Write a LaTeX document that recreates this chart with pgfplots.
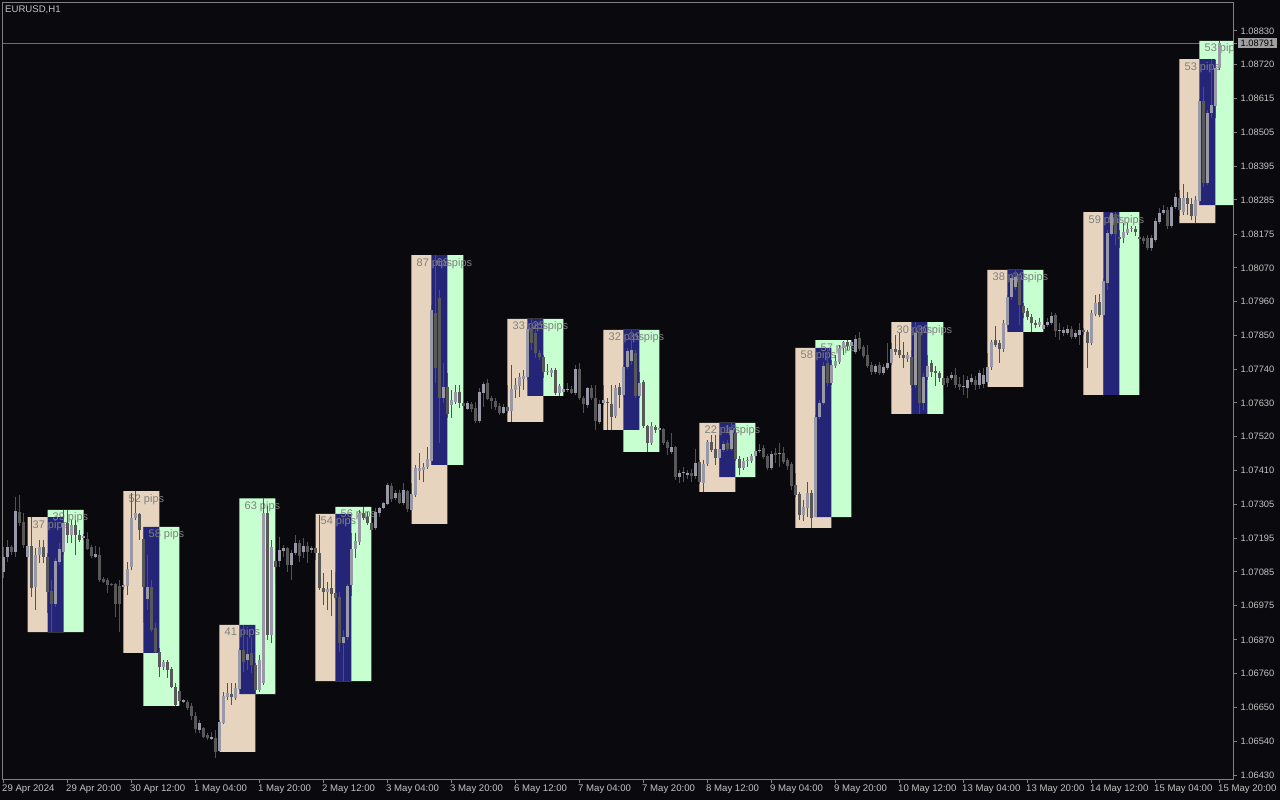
\documentclass[border=0pt]{standalone}
\usepackage{fontspec}
\setmainfont{Liberation Sans}
\usepackage{pgfplots}
\usepackage{pgfplotstable}
\pgfplotsset{compat=1.18}
\definecolor{bgc}{RGB}{10,10,14}
\definecolor{framec}{RGB}{128,128,128}
\definecolor{tickc}{RGB}{195,195,195}
\definecolor{tanc}{RGB}{230,212,190}
\definecolor{mintc}{RGB}{200,255,208}
\definecolor{navyc}{RGB}{37,37,120}
\definecolor{bullc}{RGB}{152,152,166}
\definecolor{bearc}{RGB}{88,88,88}
\definecolor{wickc}{RGB}{82,82,82}
\definecolor{labc}{RGB}{128,128,128}
\definecolor{pricec}{RGB}{110,110,110}
\definecolor{tagc}{RGB}{160,160,160}

\pgfplotstableread{
i o h l c
0 1.07085 1.07165 1.07066 1.07133
1 1.07133 1.07188 1.07117 1.07165
2 1.07165 1.07172 1.07140 1.07149
3 1.07149 1.07327 1.07133 1.07282
4 1.07278 1.07333 1.07233 1.07243
5 1.07246 1.07275 1.07162 1.07172
6 1.07133 1.07188 1.07124 1.07169
7 1.07169 1.07262 1.07004 1.07033
8 1.07036 1.07162 1.06962 1.07140
9 1.07140 1.07188 1.07114 1.07165
10 1.07165 1.07188 1.07114 1.07133
11 1.07133 1.07146 1.06953 1.07020
12 1.07024 1.07059 1.06891 1.06982
13 1.06982 1.07130 1.06972 1.07120
14 1.07117 1.07178 1.07108 1.07159
15 1.07149 1.07284 1.07140 1.07243
16 1.07243 1.07284 1.07178 1.07204
17 1.07204 1.07253 1.07178 1.07237
18 1.07237 1.07253 1.07140 1.07204
19 1.07204 1.07220 1.07182 1.07188
20 1.07195 1.07207 1.07188 1.07201
21 1.07191 1.07214 1.07156 1.07159
22 1.07165 1.07172 1.07130 1.07136
23 1.07133 1.07169 1.07130 1.07143
24 1.07140 1.07165 1.07053 1.07059
25 1.07062 1.07069 1.07049 1.07053
26 1.07059 1.07066 1.07017 1.07043
27 1.07046 1.07049 1.07040 1.07043
28 1.07046 1.07049 1.06940 1.06982
29 1.07040 1.07059 1.06891 1.06982
30 1.07036 1.07046 1.07027 1.07043
31 1.07040 1.07117 1.07011 1.07095
32 1.07101 1.07340 1.07091 1.07259
33 1.07259 1.07346 1.07253 1.07275
34 1.07272 1.07275 1.07188 1.07220
35 1.07191 1.07230 1.06920 1.07036
36 1.06998 1.07140 1.06962 1.07036
37 1.07036 1.07059 1.06891 1.06898
38 1.06904 1.06920 1.06824 1.06826
39 1.06827 1.06840 1.06746 1.06778
40 1.06778 1.06801 1.06769 1.06795
41 1.06795 1.06801 1.06743 1.06769
42 1.06772 1.06778 1.06711 1.06714
43 1.06714 1.06727 1.06653 1.06656
44 1.06701 1.06714 1.06666 1.06669
45 1.06666 1.06675 1.06662 1.06672
46 1.06666 1.06672 1.06640 1.06646
47 1.06653 1.06662 1.06608 1.06620
48 1.06620 1.06633 1.06566 1.06579
49 1.06575 1.06608 1.06566 1.06598
50 1.06582 1.06585 1.06549 1.06553
51 1.06559 1.06566 1.06543 1.06549
52 1.06546 1.06569 1.06543 1.06553
53 1.06549 1.06575 1.06485 1.06504
54 1.06507 1.06608 1.06505 1.06601
55 1.06598 1.06698 1.06595 1.06685
56 1.06682 1.06727 1.06672 1.06694
57 1.06691 1.06727 1.06656 1.06682
58 1.06678 1.06727 1.06672 1.06711
59 1.06707 1.06840 1.06704 1.06833
60 1.06833 1.06914 1.06762 1.06795
61 1.06801 1.06875 1.06769 1.06820
62 1.06824 1.06875 1.06759 1.06785
63 1.06785 1.06791 1.06691 1.06704
64 1.06704 1.06817 1.06698 1.06801
65 1.06727 1.07322 1.06720 1.07275
66 1.07275 1.07298 1.06866 1.06882
67 1.06882 1.07188 1.06856 1.07165
68 1.07120 1.07146 1.07049 1.07101
69 1.07120 1.07198 1.07101 1.07156
70 1.07153 1.07172 1.07133 1.07162
71 1.07162 1.07165 1.07085 1.07108
72 1.07108 1.07156 1.07059 1.07146
73 1.07146 1.07204 1.07140 1.07178
74 1.07178 1.07188 1.07117 1.07136
75 1.07149 1.07195 1.07130 1.07169
76 1.07169 1.07182 1.07114 1.07149
77 1.07156 1.07169 1.07146 1.07162
78 1.07162 1.07272 1.07124 1.07146
79 1.07146 1.07269 1.07027 1.07033
80 1.07033 1.07082 1.06978 1.07020
81 1.07020 1.07053 1.06962 1.07030
82 1.07033 1.07091 1.06943 1.07014
83 1.07017 1.07085 1.06995 1.07001
84 1.07004 1.07020 1.06827 1.06856
85 1.06856 1.06898 1.06733 1.06875
86 1.06875 1.07046 1.06866 1.07040
87 1.07043 1.07211 1.07007 1.07159
88 1.07159 1.07211 1.07130 1.07185
89 1.07182 1.07285 1.07172 1.07275
90 1.07275 1.07295 1.07253 1.07259
91 1.07262 1.07278 1.07237 1.07243
92 1.07243 1.07259 1.07214 1.07220
93 1.07227 1.07291 1.07220 1.07278
94 1.07275 1.07295 1.07262 1.07291
95 1.07291 1.07311 1.07288 1.07307
96 1.07304 1.07372 1.07301 1.07366
97 1.07362 1.07372 1.07311 1.07320
98 1.07324 1.07349 1.07317 1.07340
99 1.07340 1.07349 1.07304 1.07307
100 1.07307 1.07372 1.07301 1.07349
101 1.07346 1.07349 1.07278 1.07288
102 1.07285 1.07372 1.07240 1.07337
103 1.07333 1.07430 1.07327 1.07420
104 1.07411 1.07469 1.07382 1.07420
105 1.07414 1.07437 1.07375 1.07424
106 1.07424 1.07488 1.07417 1.07449
107 1.07443 1.07946 1.07430 1.07930
108 1.07920 1.08107 1.07695 1.07743
109 1.07969 1.07995 1.07501 1.07646
110 1.07646 1.07759 1.07630 1.07682
111 1.07682 1.07727 1.07582 1.07595
112 1.07624 1.07672 1.07582 1.07640
113 1.07633 1.07688 1.07627 1.07666
114 1.07666 1.07688 1.07614 1.07630
115 1.07630 1.07637 1.07614 1.07620
116 1.07611 1.07637 1.07607 1.07630
117 1.07627 1.07633 1.07601 1.07611
118 1.07614 1.07633 1.07566 1.07572
119 1.07572 1.07678 1.07566 1.07666
120 1.07662 1.07698 1.07617 1.07691
121 1.07695 1.07707 1.07640 1.07643
122 1.07646 1.07652 1.07611 1.07637
123 1.07637 1.07646 1.07607 1.07617
124 1.07620 1.07630 1.07591 1.07598
125 1.07598 1.07627 1.07595 1.07617
126 1.07617 1.07688 1.07598 1.07604
127 1.07604 1.07753 1.07569 1.07675
128 1.07672 1.07711 1.07646 1.07688
129 1.07685 1.07727 1.07649 1.07714
130 1.07707 1.07737 1.07672 1.07717
131 1.07714 1.07875 1.07704 1.07869
132 1.07869 1.07901 1.07801 1.07824
133 1.07856 1.07866 1.07775 1.07791
134 1.07791 1.07801 1.07769 1.07778
135 1.07778 1.07785 1.07711 1.07730
136 1.07730 1.07756 1.07720 1.07733
137 1.07727 1.07743 1.07714 1.07737
138 1.07737 1.07743 1.07656 1.07662
139 1.07662 1.07691 1.07653 1.07685
140 1.07666 1.07682 1.07662 1.07675
141 1.07672 1.07695 1.07666 1.07675
142 1.07675 1.07685 1.07659 1.07662
143 1.07662 1.07753 1.07656 1.07740
144 1.07740 1.07759 1.07640 1.07646
145 1.07646 1.07653 1.07598 1.07627
146 1.07624 1.07682 1.07614 1.07678
147 1.07678 1.07688 1.07640 1.07646
148 1.07646 1.07688 1.07543 1.07572
149 1.07569 1.07640 1.07562 1.07627
150 1.07630 1.07688 1.07624 1.07640
151 1.07633 1.07646 1.07543 1.07630
152 1.07627 1.07688 1.07543 1.07585
153 1.07588 1.07688 1.07582 1.07678
154 1.07682 1.07695 1.07614 1.07656
155 1.07656 1.07753 1.07649 1.07746
156 1.07746 1.07808 1.07740 1.07798
157 1.07766 1.07866 1.07753 1.07801
158 1.07791 1.07801 1.07646 1.07653
159 1.07653 1.07730 1.07646 1.07695
160 1.07698 1.07704 1.07549 1.07556
161 1.07556 1.07559 1.07472 1.07501
162 1.07501 1.07569 1.07495 1.07556
163 1.07553 1.07559 1.07533 1.07543
164 1.07543 1.07556 1.07536 1.07549
165 1.07546 1.07549 1.07495 1.07501
166 1.07504 1.07511 1.07462 1.07485
167 1.07472 1.07533 1.07466 1.07488
168 1.07488 1.07492 1.07382 1.07391
169 1.07391 1.07414 1.07372 1.07404
170 1.07404 1.07424 1.07375 1.07407
171 1.07398 1.07414 1.07385 1.07404
172 1.07404 1.07417 1.07375 1.07395
173 1.07395 1.07482 1.07385 1.07437
174 1.07440 1.07446 1.07369 1.07375
175 1.07372 1.07446 1.07343 1.07433
176 1.07433 1.07511 1.07427 1.07504
177 1.07504 1.07527 1.07472 1.07478
178 1.07482 1.07527 1.07430 1.07453
179 1.07453 1.07527 1.07391 1.07482
180 1.07478 1.07507 1.07472 1.07498
181 1.07501 1.07511 1.07475 1.07482
182 1.07482 1.07566 1.07475 1.07543
183 1.07533 1.07549 1.07443 1.07449
184 1.07449 1.07459 1.07398 1.07420
185 1.07420 1.07453 1.07414 1.07443
186 1.07443 1.07456 1.07424 1.07446
187 1.07443 1.07466 1.07437 1.07459
188 1.07459 1.07482 1.07453 1.07475
189 1.07475 1.07498 1.07469 1.07478
190 1.07485 1.07495 1.07449 1.07456
191 1.07459 1.07466 1.07414 1.07420
192 1.07420 1.07475 1.07414 1.07466
193 1.07469 1.07485 1.07437 1.07462
194 1.07466 1.07501 1.07424 1.07469
195 1.07469 1.07488 1.07433 1.07440
196 1.07446 1.07453 1.07414 1.07427
197 1.07433 1.07440 1.07349 1.07362
198 1.07366 1.07404 1.07327 1.07333
199 1.07337 1.07343 1.07253 1.07269
200 1.07269 1.07317 1.07249 1.07294
201 1.07291 1.07375 1.07262 1.07340
202 1.07340 1.07349 1.07227 1.07259
203 1.07262 1.07591 1.07262 1.07585
204 1.07585 1.07640 1.07578 1.07630
205 1.07630 1.07762 1.07624 1.07749
206 1.07759 1.07808 1.07685 1.07695
207 1.07695 1.07769 1.07688 1.07753
208 1.07749 1.07785 1.07743 1.07766
209 1.07762 1.07817 1.07756 1.07808
210 1.07808 1.07830 1.07785 1.07827
211 1.07827 1.07833 1.07801 1.07814
212 1.07814 1.07830 1.07807 1.07827
213 1.07795 1.07849 1.07788 1.07837
214 1.07840 1.07859 1.07798 1.07804
215 1.07811 1.07817 1.07775 1.07782
216 1.07785 1.07817 1.07743 1.07749
217 1.07753 1.07762 1.07720 1.07730
218 1.07730 1.07756 1.07724 1.07749
219 1.07753 1.07762 1.07720 1.07727
220 1.07727 1.07756 1.07720 1.07746
221 1.07743 1.07824 1.07737 1.07759
222 1.07759 1.07824 1.07753 1.07804
223 1.07804 1.07849 1.07785 1.07795
224 1.07801 1.07856 1.07775 1.07785
225 1.07785 1.07827 1.07743 1.07775
226 1.07772 1.07795 1.07762 1.07785
227 1.07778 1.07801 1.07678 1.07688
228 1.07688 1.07891 1.07678 1.07856
229 1.07856 1.07882 1.07595 1.07630
230 1.07630 1.07727 1.07607 1.07714
231 1.07714 1.07785 1.07704 1.07749
232 1.07759 1.07769 1.07714 1.07730
233 1.07733 1.07749 1.07685 1.07727
234 1.07727 1.07733 1.07698 1.07711
235 1.07711 1.07720 1.07656 1.07688
236 1.07711 1.07717 1.07682 1.07695
237 1.07711 1.07730 1.07704 1.07720
238 1.07720 1.07743 1.07678 1.07688
239 1.07691 1.07714 1.07672 1.07682
240 1.07682 1.07720 1.07656 1.07685
241 1.07678 1.07717 1.07646 1.07704
242 1.07698 1.07724 1.07688 1.07711
243 1.07704 1.07717 1.07672 1.07688
244 1.07688 1.07737 1.07675 1.07727
245 1.07691 1.07743 1.07678 1.07720
246 1.07698 1.07791 1.07682 1.07746
247 1.07746 1.07833 1.07737 1.07827
248 1.07833 1.07878 1.07811 1.07817
249 1.07824 1.07833 1.07759 1.07804
250 1.07804 1.07898 1.07795 1.07888
251 1.07882 1.07978 1.07872 1.07972
252 1.07972 1.08049 1.07962 1.08033
253 1.08004 1.08059 1.07995 1.08036
254 1.08036 1.08043 1.07882 1.07946
255 1.07943 1.07953 1.07904 1.07920
256 1.07927 1.07936 1.07898 1.07907
257 1.07907 1.07917 1.07859 1.07888
258 1.07888 1.07898 1.07872 1.07882
259 1.07882 1.07904 1.07875 1.07891
260 1.07869 1.07898 1.07859 1.07882
261 1.07882 1.07904 1.07875 1.07891
262 1.07888 1.07924 1.07882 1.07911
263 1.07914 1.07920 1.07843 1.07862
264 1.07862 1.07888 1.07833 1.07866
265 1.07856 1.07875 1.07846 1.07866
266 1.07856 1.07882 1.07849 1.07869
267 1.07869 1.07878 1.07837 1.07843
268 1.07843 1.07866 1.07837 1.07856
269 1.07849 1.07888 1.07817 1.07866
270 1.07866 1.07872 1.07849 1.07859
271 1.07859 1.07866 1.07743 1.07824
272 1.07824 1.07930 1.07817 1.07920
273 1.07917 1.07978 1.07911 1.07953
274 1.07956 1.07982 1.07907 1.07914
275 1.07914 1.08033 1.07656 1.08024
276 1.08017 1.08188 1.07995 1.08178
277 1.08175 1.08246 1.08169 1.08243
278 1.08239 1.08246 1.08140 1.08175
279 1.08165 1.08188 1.08130 1.08159
280 1.08162 1.08211 1.08146 1.08182
281 1.08178 1.08211 1.08172 1.08191
282 1.08191 1.08201 1.08182 1.08194
283 1.08191 1.08201 1.08169 1.08182
284 1.08165 1.08182 1.08146 1.08159
285 1.08162 1.08169 1.08143 1.08153
286 1.08162 1.08172 1.08124 1.08130
287 1.08130 1.08172 1.08120 1.08162
288 1.08156 1.08227 1.08149 1.08217
289 1.08214 1.08259 1.08207 1.08243
290 1.08243 1.08269 1.08236 1.08253
291 1.08253 1.08262 1.08191 1.08201
292 1.08201 1.08269 1.08195 1.08262
293 1.08262 1.08307 1.08256 1.08295
294 1.08291 1.08317 1.08233 1.08253
295 1.08246 1.08337 1.08236 1.08291
296 1.08291 1.08311 1.08236 1.08272
297 1.08272 1.08291 1.08220 1.08233
298 1.08233 1.08298 1.08210 1.08285
299 1.08282 1.08611 1.08268 1.08604
300 1.08604 1.08649 1.08327 1.08340
301 1.08340 1.08575 1.08333 1.08566
302 1.08566 1.08739 1.08549 1.08591
303 1.08588 1.08737 1.08549 1.08711
304 1.08711 1.08798 1.08704 1.08791
}\candles

% session boxes: x1 x2 ylow yhigh colour
\newcommand{\sessbox}[5]{\addplot[fill=#5, draw=none, forget plot] coordinates {(#1,#3) (#2,#3) (#2,#4) (#1,#4) (#1,#3)};}
\tikzset{pipl/.style={anchor=base west, inner sep=0pt, xshift=5pt, yshift=-11pt, font=\fontsize{11}{12}\selectfont, text=labc}}

\begin{document}
\begin{tikzpicture}[x=1pt,y=1pt]
\path[use as bounding box, fill=bgc] (0,0) rectangle (1280,800);
\begin{axis}[
  at={(2.5pt,20.5pt)}, anchor=south west,
  width=1231pt, height=777pt, scale only axis,
  xmin=-0.25, xmax=307.5, ymin=1.064155, ymax=1.089219,
  axis line style={draw=framec, line width=1pt},
  tick align=outside, major tick length=4pt,
  tick style={draw=framec, line width=1pt},
  xtick pos=left, ytick pos=right, yticklabel pos=right,
  scaled y ticks=false,
  xtick={0,16,...,304},
  xticklabels={29 Apr 2024,29 Apr 20:00,30 Apr 12:00,1 May 04:00,1 May 20:00,2 May 12:00,3 May 04:00,3 May 20:00,6 May 12:00,7 May 04:00,7 May 20:00,8 May 12:00,9 May 04:00,9 May 20:00,10 May 12:00,13 May 04:00,13 May 20:00,14 May 12:00,15 May 04:00,15 May 20:00},
  ytick={1.06430,1.06539,1.06648,1.06757,1.06866,1.06976,1.07085,1.07194,1.07303,1.07412,1.07521,1.07630,1.07739,1.07848,1.07957,1.08066,1.08175,1.08285,1.08394,1.08503,1.08612,1.08721,1.08830},
  yticklabels={1.06430,1.06540,1.06650,1.06760,1.06870,1.06975,1.07085,1.07195,1.07305,1.07410,1.07520,1.07630,1.07740,1.07850,1.07960,1.08070,1.08175,1.08285,1.08395,1.08505,1.08615,1.08720,1.08830},
  tick label style={font=\fontsize{9.3}{10}\selectfont, text=tickc},
  xticklabel style={anchor=north west, inner sep=0pt, xshift=-1.5pt, yshift=-1.5pt, font=\fontsize{9.6}{10}\selectfont},
  yticklabel style={anchor=west, inner sep=0pt, xshift=3pt},
  extra y ticks={1.08791}, extra y tick labels={1.08791},
  extra y tick style={yticklabel style={fill=tagc, text=black, inner xsep=3pt, inner ysep=1.5pt, xshift=-3pt}},
]
% current price line
\addplot[draw=pricec, line width=1pt, forget plot] coordinates {(-0.25,1.08791) (307.5,1.08791)};
% London (tan) session boxes
\sessbox{6}{15}{1.06891}{1.07262}{tanc}
\sessbox{30}{39}{1.06824}{1.07346}{tanc}
\sessbox{54}{63}{1.06505}{1.06914}{tanc}
\sessbox{78}{87}{1.06733}{1.07272}{tanc}
\sessbox{102}{111}{1.07240}{1.08107}{tanc}
\sessbox{126}{135}{1.07569}{1.07901}{tanc}
\sessbox{150}{159}{1.07543}{1.07866}{tanc}
\sessbox{174}{183}{1.07343}{1.07566}{tanc}
\sessbox{198}{207}{1.07227}{1.07808}{tanc}
\sessbox{222}{231}{1.07595}{1.07891}{tanc}
\sessbox{246}{255}{1.07682}{1.08059}{tanc}
\sessbox{270}{279}{1.07656}{1.08246}{tanc}
\sessbox{294}{303}{1.08210}{1.08739}{tanc}
% New York (mint) session boxes
\sessbox{11}{20}{1.06891}{1.07285}{mintc}
\sessbox{35}{44}{1.06653}{1.07230}{mintc}
\sessbox{59}{68}{1.06691}{1.07322}{mintc}
\sessbox{83}{92}{1.06733}{1.07295}{mintc}
\sessbox{107}{115}{1.07430}{1.08107}{mintc}
\sessbox{131}{140}{1.07653}{1.07901}{mintc}
\sessbox{155}{164}{1.07472}{1.07866}{mintc}
\sessbox{179}{188}{1.07391}{1.07566}{mintc}
\sessbox{203}{212}{1.07262}{1.07833}{mintc}
\sessbox{227}{235}{1.07595}{1.07891}{mintc}
\sessbox{251}{260}{1.07859}{1.08059}{mintc}
\sessbox{275}{284}{1.07656}{1.08246}{mintc}
\sessbox{299}{308}{1.08268}{1.08798}{mintc}
% overlap (navy)
\sessbox{11}{15}{1.06891}{1.07262}{navyc}
\sessbox{35}{39}{1.06824}{1.07230}{navyc}
\sessbox{59}{63}{1.06691}{1.06914}{navyc}
\sessbox{83}{87}{1.06733}{1.07272}{navyc}
\sessbox{107}{111}{1.07430}{1.08107}{navyc}
\sessbox{131}{135}{1.07653}{1.07901}{navyc}
\sessbox{155}{159}{1.07543}{1.07866}{navyc}
\sessbox{179}{183}{1.07391}{1.07566}{navyc}
\sessbox{203}{207}{1.07262}{1.07808}{navyc}
\sessbox{227}{231}{1.07595}{1.07891}{navyc}
\sessbox{251}{255}{1.07859}{1.08059}{navyc}
\sessbox{275}{279}{1.07656}{1.08246}{navyc}
\sessbox{299}{303}{1.08268}{1.08739}{navyc}
% labels
\node[pipl] at (axis cs:6,1.07262) {37 pips};
\node[pipl] at (axis cs:11,1.07285) {39 pips};
\node[pipl] at (axis cs:30,1.07346) {52 pips};
\node[pipl] at (axis cs:35,1.07230) {58 pips};
\node[pipl] at (axis cs:54,1.06914) {41 pips};
\node[pipl] at (axis cs:59,1.07322) {63 pips};
\node[pipl] at (axis cs:78,1.07272) {54 pips};
\node[pipl] at (axis cs:83,1.07295) {56 pips};
\node[pipl] at (axis cs:102,1.08107) {87 pips};
\node[pipl] at (axis cs:107,1.08107) {68 pips};
\node[pipl] at (axis cs:126,1.07901) {33 pips};
\node[pipl] at (axis cs:131,1.07901) {25 pips};
\node[pipl] at (axis cs:150,1.07866) {32 pips};
\node[pipl] at (axis cs:155,1.07866) {39 pips};
\node[pipl] at (axis cs:174,1.07566) {22 pips};
\node[pipl] at (axis cs:179,1.07566) {17 pips};
\node[pipl] at (axis cs:198,1.07808) {58 pips};
\node[pipl] at (axis cs:203,1.07833) {57 pips};
\node[pipl] at (axis cs:222,1.07891) {30 pips};
\node[pipl] at (axis cs:227,1.07891) {30 pips};
\node[pipl] at (axis cs:246,1.08059) {38 pips};
\node[pipl] at (axis cs:251,1.08059) {20 pips};
\node[pipl] at (axis cs:270,1.08246) {59 pips};
\node[pipl] at (axis cs:275,1.08246) {59 pips};
\node[pipl] at (axis cs:294,1.08739) {53 pips};
\node[pipl] at (axis cs:299,1.08798) {53 pips};
% candles: wicks
\addplot[draw=none, mark=none, forget plot,
  error bars/.cd, y dir=plus, y explicit, error mark=none,
  error bar style={draw=wickc, line width=1pt}]
  table[x=i, y=l, y error plus expr={\thisrow{h}-\thisrow{l}}] {\candles};
% bull bodies
\addplot[draw=none, mark=none, forget plot,
  error bars/.cd, y dir=plus, y explicit, error mark=none,
  error bar style={draw=bullc, line width=3pt}]
  table[x=i, y=o, y error plus expr={max(\thisrow{c}-\thisrow{o},0)}] {\candles};
% bear bodies
\addplot[draw=none, mark=none, forget plot,
  error bars/.cd, y dir=plus, y explicit, error mark=none,
  error bar style={draw=bearc, line width=3pt}]
  table[x=i, y=c, y error plus expr={max(\thisrow{o}-\thisrow{c},0)}] {\candles};
\end{axis}
\node[anchor=base west, inner sep=0pt, font=\fontsize{9.6}{10}\selectfont, text=tickc] at (5,787) {EURUSD,H1};
\end{tikzpicture}
\end{document}
